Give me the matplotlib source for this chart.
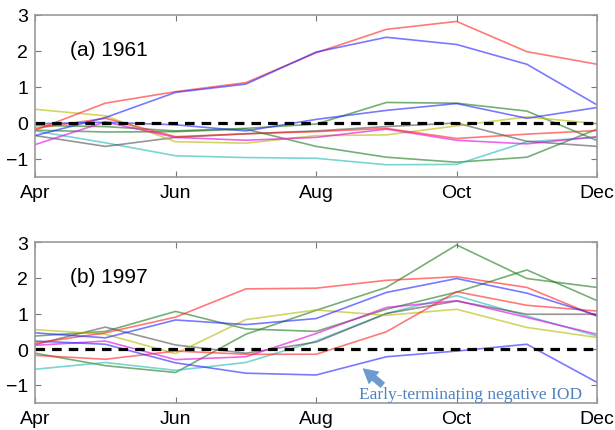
import numpy as np
import matplotlib
matplotlib.use("Agg")
import matplotlib.pyplot as plt

months = ["Apr", "May", "Jun", "Jul", "Aug", "Sep", "Oct", "Nov", "Dec"]
tick_months = ["Apr", "Jun", "Aug", "Oct", "Dec"]

# (a) 1961
a_red1 = [-0.2, 0.55, 0.87, 1.12, 1.95, 2.6, 2.82, 1.98, 1.63]
a_blue1 = [-0.35, 0.15, 0.85, 1.08, 1.97, 2.38, 2.18, 1.63, 0.5]
a_red2 = [-0.15, 0.13, -0.38, -0.3, -0.24, -0.15, -0.43, -0.31, -0.21]
a_blue2 = [-0.02, 0.02, -0.05, -0.22, 0.1, 0.35, 0.54, 0.13, 0.43]
a_green1 = [-0.07, -0.1, -0.22, -0.15, -0.03, 0.57, 0.55, 0.33, -0.49]
a_green2 = [-0.2, -0.25, -0.24, -0.17, -0.65, -0.95, -1.09, -0.95, -0.17]
a_gray = [-0.35, -0.65, -0.4, -0.3, -0.22, -0.1, 0.0, -0.51, -0.65]
a_magenta = [-0.6, 0.03, -0.4, -0.48, -0.4, -0.17, -0.48, -0.58, -0.38]
a_yellow = [0.38, 0.2, -0.52, -0.56, -0.35, -0.33, -0.08, 0.17, -0.02]
a_cyan = [-0.22, -0.55, -0.91, -0.96, -0.98, -1.16, -1.15, -0.52, -0.4]

# (b) 1997
b_red1 = [0.17, 0.46, 0.9, 1.69, 1.71, 1.93, 2.03, 1.73, 0.92]
b_green1 = [0.37, 0.5, 1.06, 0.57, 0.5, 1.12, 1.6, 2.22, 1.36]
b_blue1 = [0.46, 0.32, 0.82, 0.69, 0.86, 1.59, 1.98, 1.57, 0.95]
b_gray = [0.13, 0.62, 0.12, -0.11, 0.2, 1.0, 1.35, 0.98, 0.98]
b_yellow = [0.55, 0.42, -0.12, 0.83, 1.1, 0.95, 1.12, 0.61, 0.33]
b_magenta = [0.11, 0.23, -0.29, -0.21, 0.44, 1.17, 1.36, 0.89, 0.42]
b_blue2 = [0.23, 0.14, -0.38, -0.67, -0.72, -0.21, -0.05, 0.14, -0.93]
b_red2 = [-0.17, -0.28, -0.05, -0.14, -0.14, 0.49, 1.61, 1.23, 1.07]
b_green2 = [-0.11, -0.46, -0.65, 0.42, 1.09, 1.73, 2.92, 1.98, 1.73]
b_cyan = [-0.56, -0.37, -0.59, -0.37, 0.23, 1.0, 1.5, 0.93, 0.37]

colors = {
    "red": "#ff2020",
    "blue": "#2020ff",
    "green": "#1a7a1a",
    "yellow": "#b8b800",
    "magenta": "#e000e0",
    "cyan": "#20b8b8",
    "gray": "#505050",
}

panel_a = [("green", a_green1), ("green", a_green2), ("cyan", a_cyan), ("gray", a_gray),
           ("yellow", a_yellow), ("magenta", a_magenta), ("red", a_red2), ("blue", a_blue2),
           ("red", a_red1), ("blue", a_blue1)]
panel_b = [("green", b_green1), ("green", b_green2), ("cyan", b_cyan), ("gray", b_gray),
           ("yellow", b_yellow), ("magenta", b_magenta), ("red", b_red2), ("blue", b_blue2),
           ("red", b_red1), ("blue", b_blue1)]

plt.rcParams['font.family'] = ['Liberation Sans', 'DejaVu Sans']

fig = plt.figure(figsize=(6.15, 4.31), dpi=100)
ax1 = fig.add_axes([0.057, 0.587, 0.914, 0.376])
ax2 = fig.add_axes([0.057, 0.063, 0.914, 0.373])

x = np.arange(len(months))

for ax, lines, label in [(ax1, panel_a, "(a) 1961"), (ax2, panel_b, "(b) 1997")]:
    for c, vals in lines:
        ax.plot(x, vals, color=colors[c], lw=1.2, alpha=0.6)
    ax.axhline(0, color="black", lw=2.3, ls=(0, (3, 2.2)))
    ax.set_xlim(0, len(months) - 1)
    ax.set_ylim(-1.5, 3)
    ax.set_xticks(x[::2])
    ax.set_xticklabels(tick_months)
    ax.set_yticks([-1, 0, 1, 2, 3])
    ax.set_yticklabels(["\u22121", "0", "1", "2", "3"])
    ax.tick_params(direction="in", top=True, right=True, length=4, width=0.8,
                   color="#777777", labelsize=14, pad=5)
    for s in ax.spines.values():
        s.set_color("#999999")
        s.set_linewidth(1.2)
    ax.text(0.5, 2.05, label, fontsize=15, va="center", ha="left")

ax2.annotate("", xy=(4.63, -0.48), xytext=(4.98, -1.06),
             arrowprops=dict(arrowstyle="simple,head_width=1.2,head_length=1.1,tail_width=0.5",
                             color="#6d9bd1", lw=0))
ax2.text(6.2, -1.25, "Early-terminating negative IOD", color="#4f81bd",
         fontsize=12.5, family=["Liberation Serif", "DejaVu Serif"], ha="center", va="center")

fig.savefig("out.png", dpi=100)
